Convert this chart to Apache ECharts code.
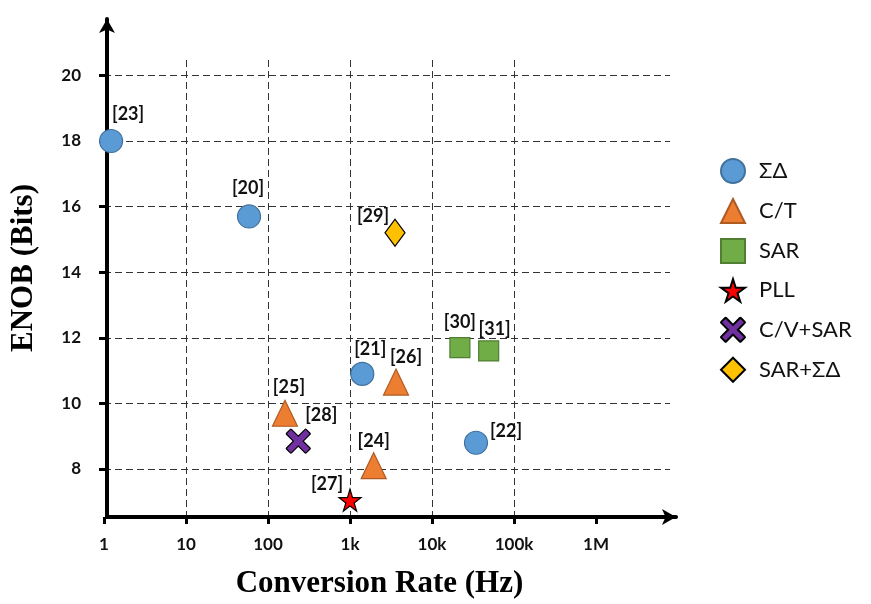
<!DOCTYPE html>
<html>
<head>
<meta charset="utf-8">
<script src="https://cdn.jsdelivr.net/npm/echarts@6/dist/echarts.min.js"></script>
<style>html,body{margin:0;padding:0;background:#fff;}#c{width:871px;height:604px;}</style>
</head>
<body>
<div id="c"></div>
<script>
// ---- data ----
const sdX = [1.22, 58.7, 1413, 34400];
const sdY = [18.0, 15.7, 10.9, 8.8];
const sdRefs = ['[23]', '[20]', '[21]', '[22]'];

const ctX = [161, 1945, 3640];
const ctY = [9.7, 8.1, 10.65];
const ctRefs = ['[25]', '[24]', '[26]'];

const sarX = [21900, 49100];
const sarY = [11.7, 11.6];
const sarRefs = ['[30]', '[31]'];

const pllX = [1000];
const pllY = [7.05];
const pllRefs = ['[27]'];

const cvX = [234];
const cvY = [8.85];
const cvRefs = ['[28]'];

const ssX = [3540];
const ssY = [15.2];
const ssRefs = ['[29]'];

const xTickValues = [1, 10, 100, 1000, 10000, 100000, 1000000];
const xTickLabels = ['1', '10', '100', '1k', '10k', '100k', '1M'];
const yTickValues = [8, 10, 12, 14, 16, 18, 20];
const seriesNames = ['ΣΔ', 'C/T', 'SAR', 'PLL', 'C/V+SAR', 'SAR+ΣΔ'];

// ---- label placement (styling, not data) ----
const labelOffset = {
  '[23]': [17, -27], '[20]': [-1, -28], '[21]': [8, -25], '[22]': [30, -12],
  '[25]': [4, -26], '[24]': [0, -25], '[26]': [10, -25],
  '[30]': [0, -25], '[31]': [6, -22], '[27]': [-23, -16], '[28]': [23, -26], '[29]': [-22, -17]
};

const STAR = 'path://M50,0 L61,35 L98,35 L68,57 L79,91 L50,70 L21,91 L32,57 L2,35 L39,35 Z';
const CROSS = 'path://M22,2 Q20,0 18,2 L2,18 Q0,20 2,22 L30,50 L2,78 Q0,80 2,82 L18,98 Q20,100 22,98 L50,70 L78,98 Q80,100 82,98 L98,82 Q100,80 98,78 L70,50 L98,22 Q100,20 98,18 L82,2 Q80,0 78,2 L50,30 Z';

function mk(xs, ys, refs) {
  return xs.map((x, i) => ({
    name: refs[i],
    value: [x, ys[i]],
    label: { offset: labelOffset[refs[i]] }
  }));
}

const labelStyle = {
  show: true, position: 'inside', formatter: '{b}',
  fontFamily: 'Lato', fontWeight: 'bold', fontSize: 18, color: '#111'
};

function series(name, xs, ys, refs, symbol, size, color, border) {
  return {
    name: name, type: 'scatter', xAxisIndex: 1, yAxisIndex: 1,
    symbol: symbol, symbolSize: size,
    itemStyle: { color: color, borderColor: border, borderWidth: 1.2, opacity: 1 },
    label: labelStyle,
    emphasis: { disabled: true },
    data: mk(xs, ys, refs),
    z: 5
  };
}

const chart = echarts.init(document.getElementById('c'), null, { renderer: 'canvas' });
const axisFont = { fontFamily: 'Lato', fontWeight: 'bold', fontSize: 17, color: '#111' };

chart.setOption({
  animation: false,
  backgroundColor: '#fff',
  grid: [
    { left: 104, top: 19, width: 572, height: 498 },
    { left: 104, top: 60, width: 566, height: 457 }
  ],
  xAxis: [
    {
      gridIndex: 0, type: 'value', min: 0, max: 1,
      name: 'Conversion Rate (Hz)', nameLocation: 'middle', nameGap: 51,
      nameTextStyle: { fontFamily: 'Liberation Serif', fontWeight: 'bold', fontSize: 31, color: '#000', padding: [0, 24, 0, 0] },
      axisLine: { show: true, symbol: ['none', 'arrow'], symbolSize: [12, 14], lineStyle: { color: '#000', width: 4 } },
      axisTick: { show: false }, axisLabel: { show: false }, splitLine: { show: false }
    },
    {
      gridIndex: 1, type: 'log', logBase: 10, min: 1, max: 7.99e6,
      axisLine: { show: false },
      axisTick: { show: true, customValues: xTickValues, length: 7, lineStyle: { color: '#000', width: 3 } },
      axisLabel: {
        show: true, customValues: xTickValues, margin: 19, ...axisFont,
        formatter: (v) => { const i = xTickValues.findIndex(t => Math.abs(t - v) / t < 1e-6); return i >= 0 ? xTickLabels[i] : ''; }
      },
      splitLine: { show: true, showMinLine: false, showMaxLine: false, lineStyle: { color: '#333', width: 1, type: [7, 4] } }
    }
  ],
  yAxis: [
    {
      gridIndex: 0, type: 'value', min: 6.537, max: 21.72,
      name: 'ENOB (Bits)', nameLocation: 'middle', nameGap: 68,
      nameTextStyle: { fontFamily: 'Liberation Serif', fontWeight: 'bold', fontSize: 31, color: '#000' },
      axisLine: { show: true, symbol: ['none', 'arrow'], symbolSize: [12, 14], lineStyle: { color: '#000', width: 4 } },
      axisTick: { show: true, customValues: yTickValues, length: 8, lineStyle: { color: '#000', width: 3 } },
      axisLabel: { show: true, customValues: yTickValues, margin: 26, ...axisFont },
      splitLine: { show: false }
    },
    {
      gridIndex: 1, type: 'value', min: 6.537, max: 20.47, splitNumber: 7,
      axisLine: { show: false }, axisTick: { show: false }, axisLabel: { show: false },
      splitLine: { show: true, showMinLine: false, showMaxLine: false, lineStyle: { color: '#333', width: 1, type: [7, 4] } }
    }
  ],
  legend: {
    orient: 'vertical', left: 715, top: 153,
    itemWidth: 24, itemHeight: 24, itemGap: 14,
    textStyle: { fontFamily: 'Lato', fontSize: 22, color: '#111', padding: [0, 0, 0, 9] },
    data: seriesNames
  },
  series: [
    series('ΣΔ', sdX, sdY, sdRefs, 'circle', 23, '#5B9BD5', '#41719C'),
    series('C/T', ctX, ctY, ctRefs, 'triangle', [25, 26], '#ED7D31', '#AE5A21'),
    series('SAR', sarX, sarY, sarRefs, 'rect', 20, '#70AD47', '#507E32'),
    series('PLL', pllX, pllY, pllRefs, STAR, 22, '#FF0000', '#000'),
    series('C/V+SAR', cvX, cvY, cvRefs, CROSS, 24, '#7030A0', '#000'),
    series('SAR+ΣΔ', ssX, ssY, ssRefs, 'diamond', [20, 27], '#FFC000', '#000')
  ]
});
</script>
</body>
</html>
